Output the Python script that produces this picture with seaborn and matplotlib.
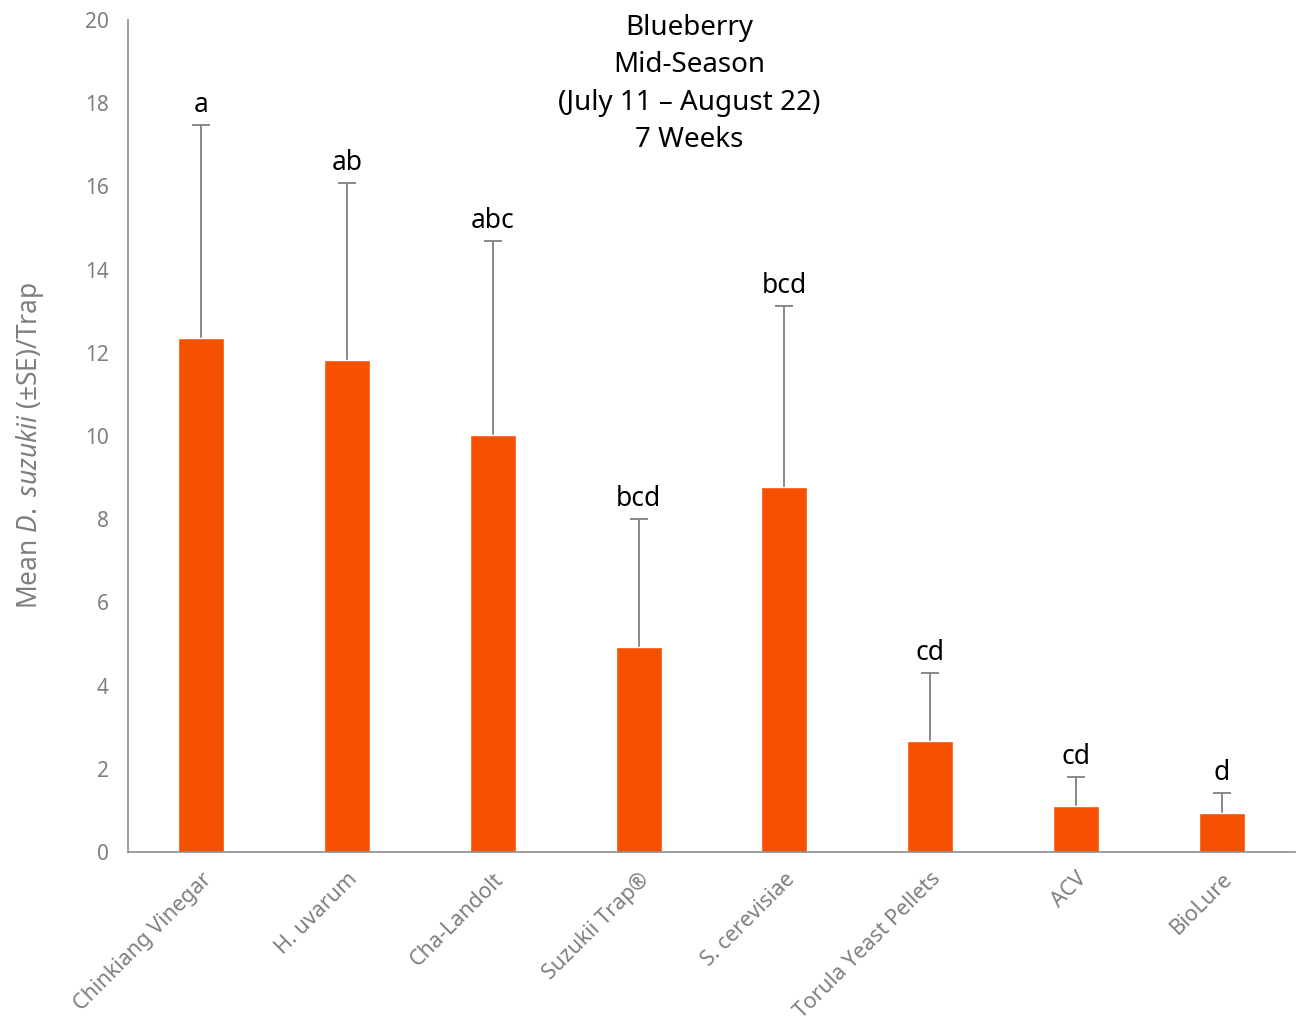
import matplotlib
matplotlib.use("Agg")
import matplotlib.pyplot as plt
import seaborn as sns
import numpy as np
import pandas as pd

categories = ["Chinkiang Vinegar", "H. uvarum", "Cha-Landolt", "Suzukii Trap®",
              "S. cerevisiae", "Torula Yeast Pellets", "ACV", "BioLure"]
means = [12.36, 11.83, 10.02, 4.93, 8.77, 2.67, 1.11, 0.94]
upper = [17.48, 16.08, 14.69, 8.00, 13.13, 4.30, 1.80, 1.42]
letters = ["a", "ab", "abc", "bcd", "bcd", "cd", "cd", "d"]
yticks = [0, 2, 4, 6, 8, 10, 12, 14, 16, 18, 20]

sns.set_theme(style="white")
plt.rcParams['font.family'] = ['Noto Sans', 'DejaVu Sans']
plt.rcParams['mathtext.fontset'] = 'custom'
plt.rcParams['mathtext.it'] = 'Noto Sans:italic'
plt.rcParams['mathtext.rm'] = 'Noto Sans'

df = pd.DataFrame({"cat": categories, "mean": means})
se = np.array(upper) - np.array(means)
xpos = np.arange(len(categories))

fig = plt.figure(figsize=(12.97, 10.25), dpi=100)
ax = fig.add_axes([128/1297, 1 - 852/1025, (1295-128)/1297, (852-20)/1025])

ax.errorbar(xpos, means, yerr=[np.zeros(len(se)), se],
            fmt="none", ecolor="#808080", elinewidth=1.3, capsize=0, zorder=1)
ax.plot(xpos, upper, ls="none", marker="_", ms=13, mew=1.3, color="#808080", zorder=1)
sns.barplot(data=df, x="cat", y="mean", color="#F75000", saturation=1,
            width=0.315, ax=ax, errorbar=None, zorder=2)

for i, (u, l) in enumerate(zip(upper, letters)):
    ax.text(i, u + 0.15, l, ha="center", va="bottom", fontsize=19, color="black")

ax.set_xlim(-0.5, 7.5)
ax.set_ylim(0, 20)
ax.set_yticks(yticks)
ax.set_yticklabels([str(t) for t in yticks], color="#7f7f7f", fontsize=15)
ax.set_xticks(range(len(categories)))
ax.set_xticklabels(categories, rotation=45, ha="right", rotation_mode="anchor",
                   color="#7f7f7f", fontsize=15.5)
ax.tick_params(axis="y", length=0, pad=14)
ax.tick_params(axis="x", length=0, pad=12)
ax.set_xlabel("")
ax.set_ylabel("Mean $\\it{D.}$ $\\it{suzukii}$ (±SE)/Trap", color="#7f7f7f", fontsize=19)
ax.yaxis.set_label_coords(-(128 - 46) / 1167, (852 - 445) / 832)
for s in ["top", "right"]:
    ax.spines[s].set_visible(False)
for s in ["left", "bottom"]:
    ax.spines[s].set_color("#8c8c8c")
    ax.spines[s].set_linewidth(1.2)

fig.text(689/1297, 1 - 84/1025, "Blueberry\nMid-Season\n(July 11 – August 22)\n7 Weeks",
         ha="center", va="center", fontsize=20, color="black", linespacing=1.45)

fig.savefig("out.png", dpi=100)
